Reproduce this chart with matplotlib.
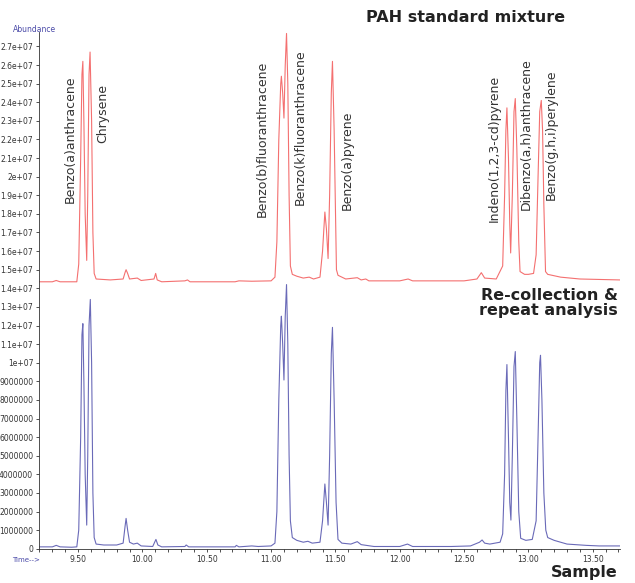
import matplotlib
matplotlib.use("Agg")
import matplotlib.pyplot as plt
from matplotlib.ticker import MultipleLocator
import numpy as np

# retention time (min) and abundance (millions)
sample_time = [9.20, 9.30, 9.33, 9.36, 9.45, 9.49, 9.505, 9.52, 9.53, 9.537, 9.545, 9.555, 9.567,
               9.575, 9.585, 9.595, 9.605, 9.615, 9.625, 9.64, 9.70, 9.80, 9.85, 9.865, 9.873,
               9.885, 9.90, 9.93, 9.96, 9.99, 10.08, 10.095, 10.105, 10.12, 10.15, 10.33, 10.34,
               10.36, 10.72, 10.73, 10.75, 10.85, 10.90, 11.00, 11.03, 11.045, 11.06, 11.075,
               11.08, 11.09, 11.10, 11.11, 11.12, 11.13, 11.14, 11.15, 11.165, 11.20, 11.25,
               11.286, 11.32, 11.38, 11.40, 11.418, 11.43, 11.443, 11.455, 11.468, 11.477,
               11.49, 11.505, 11.52, 11.55, 11.62, 11.67, 11.70, 11.80, 12.00, 12.06, 12.10,
               12.40, 12.55, 12.62, 12.64, 12.66, 12.70, 12.78, 12.80, 12.815, 12.825, 12.833,
               12.845, 12.855, 12.864, 12.875, 12.888, 12.898, 12.91, 12.925, 12.94, 12.98,
               13.03, 13.06, 13.075, 13.088, 13.094, 13.105, 13.12, 13.135, 13.15, 13.20,
               13.30, 13.45, 13.55, 13.71]
sample_abund = [0.10, 0.10, 0.18, 0.10, 0.08, 0.10, 1.0, 6.0, 11.5, 12.1, 9.0, 4.0, 1.27,
                5.0, 12.0, 13.4, 10.0, 3.0, 0.6, 0.25, 0.2, 0.2, 0.3, 1.2, 1.63,
                1.0, 0.35, 0.25, 0.3, 0.15, 0.12, 0.35, 0.5, 0.2, 0.1, 0.12, 0.2,
                0.1, 0.1, 0.18, 0.1, 0.15, 0.12, 0.15, 0.3, 2.0, 8.0, 12.0,
                12.5, 11.0, 9.07, 12.5, 14.2, 11.0, 5.0, 1.5, 0.6, 0.45, 0.35,
                0.4, 0.3, 0.35, 1.5, 3.48, 2.5, 1.27, 5.0, 10.5, 11.9,
                8.0, 2.5, 0.5, 0.3, 0.25, 0.38, 0.22, 0.12, 0.12, 0.25, 0.12,
                0.12, 0.15, 0.35, 0.47, 0.3, 0.25, 0.35, 0.8, 4.0, 8.5, 9.9,
                6.0, 2.5, 1.54, 5.0, 9.8, 10.6, 7.0, 2.0, 0.56, 0.45,
                0.5, 1.5, 6.0, 10.0, 10.4, 8.0, 3.0, 1.0, 0.6, 0.45,
                0.25, 0.18, 0.15, 0.15]

std_time = [9.20, 9.30, 9.33, 9.36, 9.49, 9.505, 9.52, 9.53, 9.537, 9.545, 9.555, 9.567,
            9.575, 9.585, 9.593, 9.605, 9.615, 9.625, 9.64, 9.75, 9.85, 9.865, 9.873, 9.885,
            9.90, 9.96, 9.99, 10.09, 10.103, 10.115, 10.15, 10.33, 10.35, 10.37, 10.72, 10.75,
            10.85, 11.00, 11.03, 11.045, 11.06, 11.075, 11.08, 11.09, 11.10, 11.11, 11.12,
            11.13, 11.14, 11.15, 11.165, 11.20, 11.25, 11.296, 11.33, 11.38, 11.40, 11.418,
            11.43, 11.443, 11.455, 11.468, 11.477, 11.49, 11.508, 11.52, 11.58, 11.67, 11.70,
            11.736, 11.76, 12.00, 12.065, 12.10, 12.50, 12.60, 12.634, 12.66, 12.75, 12.80,
            12.815, 12.825, 12.833, 12.845, 12.855, 12.862, 12.875, 12.888, 12.898, 12.91,
            12.925, 12.935, 12.97, 13.00, 13.04, 13.06, 13.075, 13.088, 13.10, 13.11, 13.12,
            13.133, 13.15, 13.25, 13.40, 13.71]
std_abund = [14.35, 14.35, 14.42, 14.35, 14.35, 15.3, 21.0, 25.5, 26.2, 23.0, 18.0, 15.5,
             19.0, 25.5, 26.7, 23.0, 17.0, 14.8, 14.5, 14.45, 14.5, 14.85, 15.0, 14.8,
             14.5, 14.55, 14.42, 14.5, 14.8, 14.45, 14.35, 14.4, 14.45, 14.35, 14.35, 14.4,
             14.38, 14.4, 14.6, 16.5, 22.0, 25.0, 25.4, 24.5, 23.15, 26.0, 27.7,
             25.0, 19.0, 15.2, 14.75, 14.65, 14.55, 14.6, 14.5, 14.6, 16.0, 18.1,
             17.2, 15.6, 19.0, 24.5, 26.2, 22.5, 15.0, 14.7, 14.5, 14.57, 14.45,
             14.5, 14.4, 14.4, 14.5, 14.4, 14.4, 14.5, 14.84, 14.55, 14.5, 15.2,
             19.0, 22.5, 23.7, 21.0, 17.5, 15.9, 19.0, 23.5, 24.2, 21.5,
             16.5, 14.9, 14.75, 14.75, 14.8, 15.8, 20.0, 23.5, 24.1, 22.5, 18.5,
             14.9, 14.75, 14.6, 14.5, 14.45]

compounds = ["Benzo(a)anthracene", "Chrysene", "Benzo(b)fluoranthracene",
             "Benzo(k)fluoranthracene", "Benzo(a)pyrene", "Indeno(1,2,3-cd)pyrene",
             "Dibenzo(a,h)anthracene", "Benzo(g,h,i)perylene"]

x_ticks = [9.5, 10.0, 10.5, 11.0, 11.5, 12.0, 12.5, 13.0, 13.5]
x_labels = ["9.50", "10.00", "10.50", "11.00", "11.50", "12.00", "12.50", "13.00", "13.50"]
y_ticks = [i * 1e6 for i in range(28)]
y_labels = ["0", "1000000", "2000000", "3000000", "4000000", "5000000", "6000000",
            "7000000", "8000000", "9000000", "1e+07", "1.1e+07", "1.2e+07", "1.3e+07",
            "1.4e+07", "1.5e+07", "1.6e+07", "1.7e+07", "1.8e+07", "1.9e+07", "2e+07",
            "2.1e+07", "2.2e+07", "2.3e+07", "2.4e+07", "2.5e+07", "2.6e+07", "2.7e+07"]

# where the compound names sit (time of label centre, abundance at label foot)
label_x = [9.438, 9.694, 10.929, 11.224, 11.589, 12.738, 12.986, 13.18]
label_y = [18.6e6, 21.8e6, 17.83e6, 18.48e6, 18.2e6, 17.56e6, 18.2e6, 18.75e6]

small = ["Liberation Sans Narrow", "DejaVu Sans"]

fig = plt.figure(figsize=(6.35, 5.83), dpi=100)
ax = fig.add_axes([0.0622, 0.0588, 0.9138, 0.887])

ax.plot(sample_time, np.array(sample_abund) * 1e6, color="#6a6ab8", lw=0.8)
ax.plot(std_time, np.array(std_abund) * 1e6, color="#f47070", lw=0.8)

ax.set_xlim(9.2, 13.71)
ax.set_ylim(0, 2.78e7)
ax.spines["top"].set_visible(False)
ax.spines["right"].set_visible(False)
for s in ["left", "bottom"]:
    ax.spines[s].set_linewidth(0.6)
    ax.spines[s].set_color("#333333")

ax.set_xticks(x_ticks)
ax.set_xticklabels(x_labels, family=small, fontsize=5.5, color="#333333")
ax.xaxis.set_minor_locator(MultipleLocator(0.1))
ax.set_yticks(y_ticks)
ax.set_yticklabels(y_labels, family=small, fontsize=5.5, color="#333333")
ax.tick_params(which="both", length=2.5, width=0.6, color="#333333", pad=2)

for name, lx, ly in zip(compounds, label_x, label_y):
    ax.text(lx, ly, name, rotation=90, ha="center", va="bottom",
            fontsize=9, color="#333333")

fig.text(13 / 635, 1 - 29.5 / 583, "Abundance", family=small, fontsize=5.5,
         color="#4a4aa8", va="center")
fig.text(12 / 635, 1 - 560 / 583, "Time-->", family=small, fontsize=5,
         color="#4a4aa8", va="center")

fig.text(565 / 635, 1 - 18 / 583, "PAH standard mixture", fontsize=11.5,
         fontweight="bold", color="#222222", ha="right", va="center")
fig.text(618 / 635, 1 - 303 / 583, "Re-collection &\nrepeat analysis", fontsize=11.5,
         fontweight="bold", color="#222222", ha="right", va="center", linespacing=1.05)
fig.text(618 / 635, 1 - 573 / 583, "Sample", fontsize=11.5,
         fontweight="bold", color="#222222", ha="right", va="center")

fig.savefig("out.png", dpi=100)
